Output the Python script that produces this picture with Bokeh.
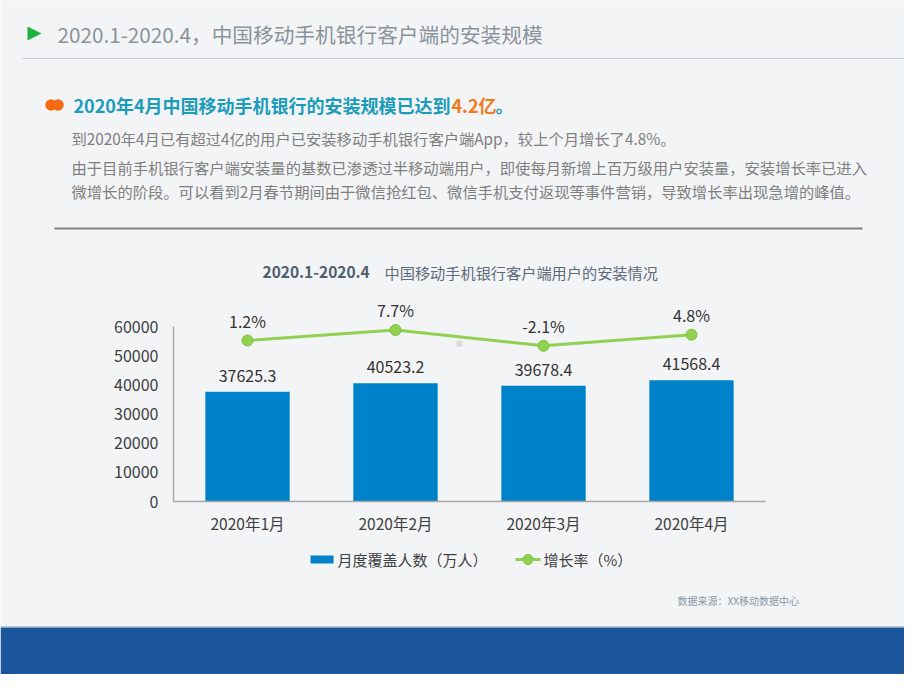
from bokeh.plotting import figure
from bokeh.models import Range1d, FixedTicker, ColumnDataSource
from bokeh.core.properties import value
from bokeh.embed import file_html
from bokeh.resources import INLINE

# ---------------- data ----------------
months = ["2020年1月", "2020年2月", "2020年3月", "2020年4月"]
users = [37625.3, 40523.2, 39678.4, 41568.4]          # 月度覆盖人数（万人）
growth = [1.2, 7.7, -2.1, 4.8]                         # 增长率（%）
y_ticks = [0, 10000, 20000, 30000, 40000, 50000, 60000]

title_text = "2020.1-2020.4，中国移动手机银行客户端的安装规模"
headline_a = "2020年4月中国移动手机银行的安装规模已达到"
headline_b = "4.2亿"
headline_c = "。"
para1 = "到2020年4月已有超过4亿的用户已安装移动手机银行客户端App，较上个月增长了4.8%。"
para2a = "由于目前手机银行客户端安装量的基数已渗透过半移动端用户，即使每月新增上百万级用户安装量，安装增长率已进入"
para2b = "微增长的阶段。可以看到2月春节期间由于微信抢红包、微信手机支付返现等事件营销，导致增长率出现急增的峰值。"
chart_title_a = "2020.1-2020.4"
chart_title_b = "中国移动手机银行客户端用户的安装情况"
legend_bar = "月度覆盖人数（万人）"
legend_line = "增长率（%）"
source_text = "数据来源：XX移动数据中心"

FONT = "Noto Sans CJK SC"
BG = "#f3f4f6"
BAR_C = "#0082ca"
LINE_C = "#92d050"
W, H = 904, 674

# ---------------- layout of the chart inside the slide (pixels) ----------------
AX_L, AX_R = 173, 765        # x-axis extent
Y0_PX, Y60K_PX = 501, 326    # pixel rows of 0 and 60000
CAT_W = (AX_R - AX_L) / len(months)
per_px = 60000 / (Y0_PX - Y60K_PX)
x_lo = -0.5 - AX_L / CAT_W
x_hi = -0.5 + (W - AX_L) / CAT_W
y_lo = -(H - Y0_PX) * per_px
y_hi = Y0_PX * per_px
# growth axis (hidden): 1.2% sits at pixel row 340, 1.615 px per percentage point
PCT_PX, PCT_REF, PCT_SCALE = 340, 1.2, 1.615
pct_lo = PCT_REF - (H - PCT_PX) / PCT_SCALE
pct_hi = PCT_REF + PCT_PX / PCT_SCALE

idx = list(range(len(months)))
src = ColumnDataSource(dict(
    i=idx, u=users, ul=[f"{v:.1f}" for v in users],
    g=growth, gl=[f"{v:.1f}%" for v in growth],
))

p = figure(width=W, height=H,
           x_range=Range1d(x_lo, x_hi), y_range=Range1d(y_lo, y_hi),
           output_backend="svg", toolbar_location=None, min_border=0)
p.extra_y_ranges = {"pct": Range1d(pct_lo, pct_hi), "py": Range1d(H, 0)}
p.extra_x_ranges = {"px": Range1d(0, W)}
p.background_fill_color = BG
p.border_fill_color = BG
p.outline_line_color = None
p.xgrid.grid_line_color = None
p.ygrid.grid_line_color = None

# ---------------- axes (drawn at fixed positions inside the slide) ----------------
p.yaxis.fixed_location = -0.5
p.xaxis.fixed_location = 0
p.yaxis.ticker = FixedTicker(ticks=y_ticks)
p.yaxis.bounds = (0, 60000)
p.xaxis.ticker = FixedTicker(ticks=idx)
p.xaxis.bounds = (-0.5, len(months) - 0.5)
p.xaxis.major_label_overrides = {i: m for i, m in zip(idx, months)}
for ax in (p.xaxis, p.yaxis):
    ax.axis_line_color = "#a6a6a6"
    ax.axis_line_width = 1.5
    ax.major_tick_line_color = None
    ax.minor_tick_line_color = None
    ax.major_tick_out = 0
    ax.major_tick_in = 0
    ax.major_label_text_font = FONT
    ax.major_label_text_color = "#404040"
p.yaxis.major_label_text_font_size = "16px"
p.yaxis.major_label_standoff = 15
p.xaxis.major_label_text_font_size = "15.5px"
p.xaxis.major_label_standoff = 10

# ---------------- data marks ----------------
p.vbar(x="i", top="u", width=0.57, source=src, fill_color=BAR_C, line_color=None)
p.text(x="i", y="u", text="ul", source=src, y_offset=-16,
       text_align="center", text_baseline="middle",
       text_font=value(FONT), text_font_size="16px", text_color="#333333")

p.line(x="i", y="g", source=src, y_range_name="pct", line_color=LINE_C, line_width=3)
p.scatter(x="i", y="g", source=src, y_range_name="pct", size=11,
          fill_color=LINE_C, line_color="#7cc23e", line_width=1)
p.text(x="i", y="g", text="gl", source=src, y_range_name="pct", y_offset=-20,
       text_align="center", text_baseline="middle",
       text_font=value(FONT), text_font_size="16px", text_color="#333333")

# ---------------- slide decorations in pixel coordinates ----------------
PX = dict(x_range_name="px", y_range_name="py")


def txt(x, y, t, size, color, bold=False, align="left"):
    p.text(x=[x], y=[y], text=[t], text_font=value(FONT),
           text_font_size=f"{size}px", text_color=color,
           text_font_style="bold" if bold else "normal",
           text_align=align, text_baseline="middle", **PX)


def hline(x0, x1, y, color, width):
    p.segment(x0=[x0], y0=[y], x1=[x1], y1=[y], line_color=color, line_width=width, **PX)


# title bar
p.patch(x=[27, 41, 27], y=[26, 33, 40], fill_color="#1fb23f", line_color=None, **PX)
txt(57, 33, title_text, 20.7, "#8a939b")
hline(22, W, 58, "#c8ced6", 1)

# headline
p.scatter(x=[50.5, 57.5], y=[104.5, 104.5], size=11.5,
          fill_color="#f56a12", line_color=None, **PX)
txt(73, 104, headline_a, 18, "#1a9cba", bold=True)
txt(451, 104, headline_b, 18, "#f07a1c", bold=True)
txt(495, 104, headline_c, 18, "#1a9cba", bold=True)

# paragraphs
txt(71, 137, para1, 15.3, "#7f7f7f")
txt(71, 166, para2a, 15.3, "#7f7f7f")
txt(71, 190, para2b, 15.3, "#7f7f7f")

hline(54, 862, 228, "#7f7f7f", 2)

# chart title
txt(262, 271, chart_title_a, 15.5, "#4f6070", bold=True)
txt(384, 271, chart_title_b, 15.2, "#5d6b7a")

# small plot-area handle mark seen in the original
p.quad(left=[456], right=[462], top=[340], bottom=[346],
       fill_color="#d9d9d9", line_color=None, **PX)

# legend
p.quad(left=[310], right=[333], top=[555], bottom=[563], fill_color=BAR_C, line_color=None, **PX)
txt(337, 559, legend_bar, 15, "#404040")
hline(515, 540, 559, LINE_C, 3)
p.scatter(x=[527.5], y=[559], size=10, fill_color=LINE_C, line_color="#7cc23e", **PX)
txt(543, 559, legend_line, 15, "#404040")

# source note
txt(677, 600, source_text, 10, "#8a99a8")

# bottom band
p.quad(left=[0], right=[W], top=[627], bottom=[H], fill_color="#1b559b", line_color=None, **PX)
hline(0, W, 626.5, "#7d9cc4", 1)

open("out.html", "w").write(file_html(p, INLINE))
